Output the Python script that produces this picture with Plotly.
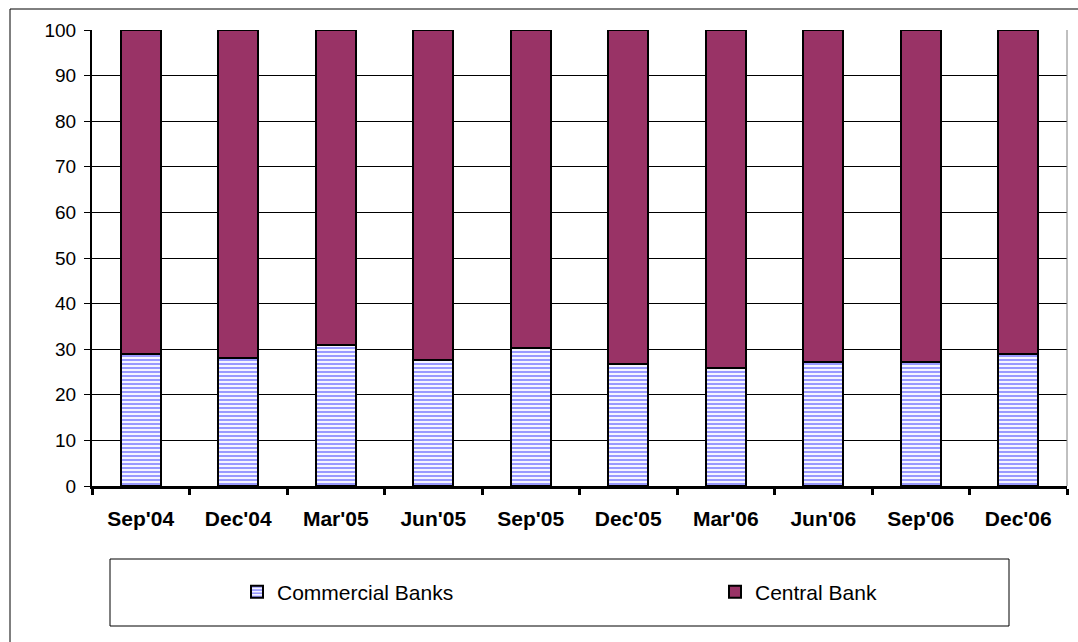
import plotly.graph_objects as go

# Quarterly share of holdings (%), stacked to 100
quarters = ["Sep'04", "Dec'04", "Mar'05", "Jun'05", "Sep'05",
            "Dec'05", "Mar'06", "Jun'06", "Sep'06", "Dec'06"]
commercial_banks = [28.9, 28.0, 30.9, 27.6, 30.3, 26.8, 25.9, 27.2, 27.2, 28.9]
central_bank = [round(100 - v, 1) for v in commercial_banks]

W, H = 1078, 642
ML, MR, MT, MB = 92, 11, 30, 156
PW, PH = W - ML - MR, H - MT - MB


def px_x(x):
    return (x - ML) / PW


def px_y(y):
    return (H - MB - y) / PH


FONT = "Arial, Liberation Sans, sans-serif"

fig = go.Figure()
fig.add_bar(
    x=quarters, y=commercial_banks, name="Commercial Banks",
    legend="legend",
    marker=dict(
        color="white",
        line=dict(color="black", width=2),
        pattern=dict(shape="-", fgcolor="#9999ff", bgcolor="white",
                     size=4, solidity=0.55, fillmode="replace"),
    ),
)
fig.add_bar(
    x=quarters, y=central_bank, name="Central Bank",
    legend="legend2",
    marker=dict(color="#993366", line=dict(color="black", width=2)),
)

shapes = [
    # outer chart frame
    dict(type="rect", xref="paper", yref="paper",
         x0=px_x(10), x1=px_x(W + 20), y0=px_y(9), y1=px_y(H + 20),
         line=dict(color="black", width=1), layer="below"),
    # legend frame
    dict(type="rect", xref="paper", yref="paper",
         x0=px_x(110), x1=px_x(1009), y0=px_y(559), y1=px_y(626),
         line=dict(color="black", width=1), fillcolor="white", layer="below"),
    # right border of the plot area
    dict(type="line", xref="paper", yref="paper",
         x0=1, x1=1, y0=0, y1=1, line=dict(color="#808080", width=1)),
]

legend_style = dict(
    orientation="h", xanchor="left", yanchor="middle", y=px_y(592),
    bgcolor="rgba(0,0,0,0)", borderwidth=0,
    font=dict(size=21, family=FONT),
)

fig.update_layout(
    width=W, height=H,
    margin=dict(l=ML, r=MR, t=MT, b=MB),
    paper_bgcolor="white", plot_bgcolor="white",
    barmode="stack", bargap=0.59,
    font=dict(family=FONT, color="black", size=19),
    showlegend=True,
    legend=dict(x=px_x(237), **legend_style),
    legend2=dict(x=px_x(715), **legend_style),
    shapes=shapes,
    xaxis=dict(
        type="category", showgrid=False,
        showline=True, linecolor="black", linewidth=3,
        ticks="outside", tickson="boundaries", ticklen=6, tickwidth=3,
        tickcolor="black",
        tickfont=dict(size=21, family=FONT, weight="bold"),
        ticklabelstandoff=12,
    ),
    yaxis=dict(
        range=[0, 100], dtick=10, tick0=0,
        showgrid=True, gridcolor="black", gridwidth=1,
        showline=True, linecolor="black", linewidth=2,
        ticks="outside", ticklen=6, tickwidth=1, tickcolor="black",
        tickfont=dict(size=19, family=FONT),
        zeroline=False, ticklabelstandoff=4,
    ),
)

fig.write_html("out.html")
